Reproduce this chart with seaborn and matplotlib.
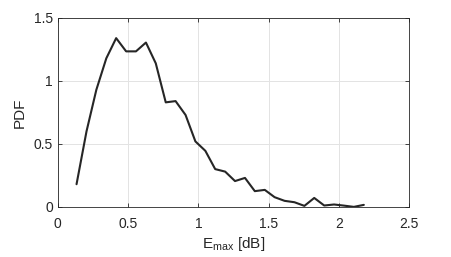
import matplotlib
matplotlib.use('Agg')
import matplotlib.pyplot as plt
import pandas as pd
import seaborn as sns

# Data (bin centres and PDF values)
e_max = [0.133, 0.204, 0.274, 0.345, 0.415, 0.486, 0.556, 0.627, 0.697, 0.768,
         0.838, 0.909, 0.979, 1.050, 1.120, 1.191, 1.261, 1.332, 1.402, 1.473,
         1.543, 1.614, 1.684, 1.755, 1.825, 1.896, 1.966, 2.037, 2.107, 2.178]
pdf = [0.18, 0.60, 0.93, 1.18, 1.34, 1.235, 1.235, 1.305, 1.14, 0.83,
       0.84, 0.73, 0.52, 0.445, 0.30, 0.28, 0.205, 0.23, 0.125, 0.135,
       0.077, 0.048, 0.037, 0.008, 0.071, 0.011, 0.019, 0.01, 0.0, 0.016]
x_ticks = [0, 0.5, 1, 1.5, 2, 2.5]
x_labels = ['0', '0.5', '1', '1.5', '2', '2.5']
y_ticks = [0, 0.5, 1, 1.5]
y_labels = ['0', '0.5', '1', '1.5']

df = pd.DataFrame({'emax': e_max, 'pdf': pdf})

sns.set_theme(style='whitegrid')
plt.rcParams['font.family'] = ['Liberation Sans', 'DejaVu Sans']
plt.rcParams['mathtext.fontset'] = 'custom'
plt.rcParams['mathtext.rm'] = 'Liberation Sans'

fig = plt.figure(figsize=(4.52, 2.57), dpi=100)
ax = fig.add_axes([0.128, 0.195, 0.777, 0.735])

sns.lineplot(data=df, x='emax', y='pdf', color='#262626', linewidth=1.5, ax=ax)

ax.set_xlim(0, 2.5)
ax.set_ylim(0, 1.5)
ax.set_xticks(x_ticks)
ax.set_xticklabels(x_labels)
ax.set_yticks(y_ticks)
ax.set_yticklabels(y_labels)
ax.set_xlabel(r'E$_\mathregular{max}$ [dB]', fontsize=11, color='#262626', labelpad=3)
ax.set_ylabel('PDF', fontsize=11, color='#262626', labelpad=5)

ax.grid(True, color='#e3e3e3', linewidth=0.7)
ax.tick_params(direction='in', length=3, width=0.6, colors='#262626',
               labelsize=10, top=True, right=True, bottom=True, left=True)
ax.tick_params(axis='x', pad=7)
ax.tick_params(axis='y', pad=3.5)
for s in ax.spines.values():
    s.set_visible(True)
    s.set_color('#262626')
    s.set_linewidth(0.6)
ax.set_facecolor('white')

fig.savefig('out.png', dpi=100)
